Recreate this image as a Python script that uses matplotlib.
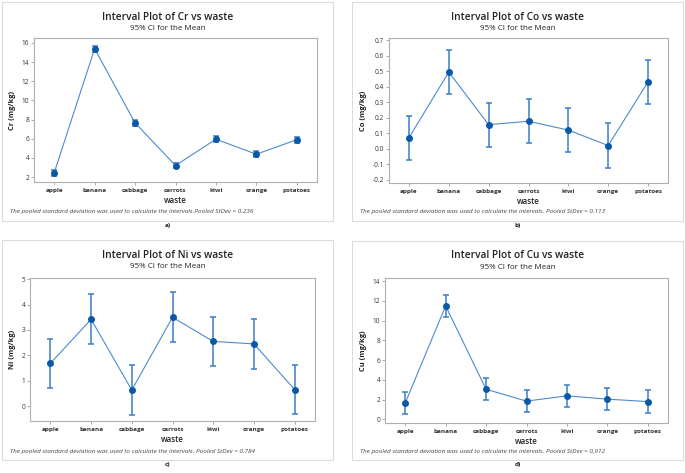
import matplotlib
matplotlib.use("Agg")
import matplotlib.pyplot as plt
from matplotlib.patches import Rectangle

plt.rcParams['font.family'] = ['Open Sans', 'DejaVu Sans']

waste = ["apple", "banana", "cabbage", "carrots", "kiwi", "orange", "potatoes"]

# means and 95% CI half widths
cr_mean = [2.45, 15.4, 7.65, 3.2, 5.95, 4.38, 5.9]
cr_ci = [0.3, 0.3, 0.3, 0.3, 0.3, 0.3, 0.3]
co_mean = [0.07, 0.495, 0.155, 0.177, 0.12, 0.02, 0.432]
co_ci = [0.143, 0.143, 0.143, 0.143, 0.143, 0.143, 0.143]
ni_mean = [1.68, 3.42, 0.63, 3.5, 2.55, 2.45, 0.65]
ni_ci = [0.98, 0.98, 0.98, 0.98, 0.98, 0.98, 0.98]
cu_mean = [1.65, 11.5, 3.05, 1.85, 2.38, 2.05, 1.8]
cu_ci = [1.13, 1.13, 1.13, 1.13, 1.13, 1.13, 1.13]

W, H = 685, 473
fig = plt.figure(figsize=(W / 100, H / 100), dpi=100)

line_col = "#4d8ad0"
dot_col = "#0b58a8"
err_col = "#3b7cc6"


def box(l, t, r, b):
    return [l / W, 1 - b / H, (r - l) / W, (b - t) / H]


def panel(frame, ax_box, name, mean, ci, ylim, yticks, ytl, stdev, tag, sep):
    l, t, r, b = frame
    fig.patches.append(Rectangle((l / W, 1 - b / H), (r - l) / W, (b - t) / H,
                                 transform=fig.transFigure, fill=False,
                                 edgecolor="#dcdcdc", lw=0.8))
    cx = (l + r) / 2
    fig.text(cx / W, 1 - (t + 15) / H, f"Interval Plot of {name} vs waste",
             ha="center", va="center", fontsize=7.3, fontweight="semibold", color="#222222")
    fig.text(cx / W, 1 - (t + 26.5) / H, "95% CI for the Mean",
             ha="center", va="center", fontsize=5.8, color="#222222")
    ax = fig.add_axes(box(*ax_box))
    x = list(range(len(waste)))
    ax.plot(x, mean, color=line_col, lw=0.8, zorder=2)
    ax.errorbar(x, mean, yerr=ci, fmt="none", ecolor=err_col, elinewidth=1.1,
                capsize=2.4, capthick=1.1, zorder=3)
    ax.plot(x, mean, "o", color=dot_col, ms=4, zorder=4)
    ax.set_xlim(-0.5, len(waste) - 0.5)
    ax.set_ylim(*ylim)
    ax.set_yticks(yticks)
    ax.set_yticklabels(ytl)
    ax.set_xticks(x)
    ax.set_xticklabels(waste, fontsize=4.6, fontweight="bold", color="#333333")
    ax.tick_params(axis="y", labelsize=4.7, length=2, width=0.5, color="#888888",
                   labelcolor="#333333", pad=1.5)
    ax.tick_params(axis="x", length=2, width=0.5, color="#888888", pad=2.5)
    for s in ax.spines.values():
        s.set_color("#b0b0b0")
        s.set_linewidth(0.8)
    ax.set_xlabel("waste", fontsize=5.8, fontweight="semibold", color="#222222", labelpad=2)
    ax.set_ylabel(f"{name} (mg/kg)", fontsize=5.4, fontweight="bold", color="#222222", labelpad=4)
    fig.text((l + 8) / W, 1 - (b - 9) / H,
             f"The pooled standard deviation was used to calculate the intervals.{sep}Pooled StDev = {stdev}",
             ha="left", va="center", fontsize=4.6, style="italic", color="#444444")
    fig.text(cx / W, 1 - (b + 4) / H, tag, ha="center", va="center",
             fontsize=4.6, fontweight="bold", color="#222222")
    return ax


panel((2, 2, 333, 221), (34, 38, 317, 182), "Cr", cr_mean, cr_ci,
      (1.48, 16.52), [2, 4, 6, 8, 10, 12, 14, 16], ["2", "4", "6", "8", "10", "12", "14", "16"],
      "0.236", "a)", "")
panel((352, 2, 683, 221), (389, 38, 668, 183), "Co", co_mean, co_ci,
      (-0.222, 0.715), [-0.2, -0.1, 0.0, 0.1, 0.2, 0.3, 0.4, 0.5, 0.6, 0.7],
      ["-0.2", "-0.1", "0.0", "0.1", "0.2", "0.3", "0.4", "0.5", "0.6", "0.7"],
      "0.113", "b)", " ")
panel((2, 240, 333, 460), (30, 278, 315, 421), "Ni", ni_mean, ni_ci,
      (-0.59, 5.05), [0, 1, 2, 3, 4, 5], ["0", "1", "2", "3", "4", "5"],
      "0.784", "c)", " ")
panel((352, 241, 683, 460), (385, 278, 668, 423), "Cu", cu_mean, cu_ci,
      (-0.37, 14.33), [0, 2, 4, 6, 8, 10, 12, 14], ["0", "2", "4", "6", "8", "10", "12", "14"],
      "0,912", "d)", " ")

fig.savefig("out.png", dpi=100)
